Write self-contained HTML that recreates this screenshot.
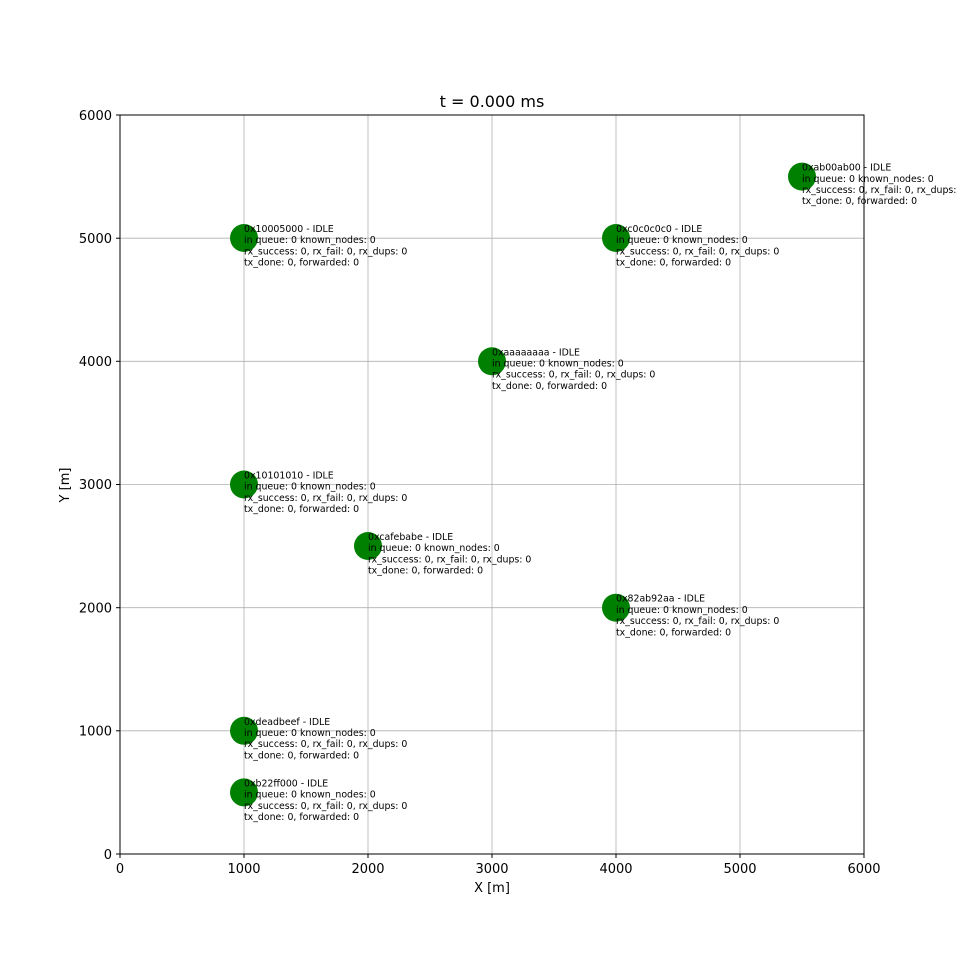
<!DOCTYPE html>
<html><head><meta charset="utf-8"><style>
html,body{margin:0;padding:0;background:#fff;}
svg{display:block;font-family:"DejaVu Sans","Liberation Sans",sans-serif;}
</style></head><body>
<svg width="960" height="960" viewBox="0 0 960 960" xmlns="http://www.w3.org/2000/svg">
<rect width="960" height="960" fill="#fff"/>
<g stroke="#b0b0b0" stroke-width="0.8">
<line x1="244" y1="115" x2="244" y2="854"/>
<line x1="368" y1="115" x2="368" y2="854"/>
<line x1="492" y1="115" x2="492" y2="854"/>
<line x1="616" y1="115" x2="616" y2="854"/>
<line x1="740" y1="115" x2="740" y2="854"/>
<line x1="120" y1="730.8" x2="864" y2="730.8"/>
<line x1="120" y1="607.7" x2="864" y2="607.7"/>
<line x1="120" y1="484.5" x2="864" y2="484.5"/>
<line x1="120" y1="361.3" x2="864" y2="361.3"/>
<line x1="120" y1="238.2" x2="864" y2="238.2"/>
</g>
<g fill="#008000">
<circle cx="244" cy="238" r="14"/>
<circle cx="616" cy="238" r="14"/>
<circle cx="802" cy="176.6" r="14"/>
<circle cx="492" cy="361.3" r="14"/>
<circle cx="244" cy="484.5" r="14"/>
<circle cx="368" cy="546" r="14"/>
<circle cx="616" cy="607.7" r="14"/>
<circle cx="244" cy="730.8" r="14"/>
<circle cx="244" cy="792.4" r="14"/>
</g>
<rect x="120" y="115" width="744" height="739" fill="none" stroke="#000" stroke-width="1"/>
<g stroke="#000" stroke-width="1">
<line x1="120" y1="854" x2="120" y2="858"/><line x1="244" y1="854" x2="244" y2="858"/><line x1="368" y1="854" x2="368" y2="858"/><line x1="492" y1="854" x2="492" y2="858"/><line x1="616" y1="854" x2="616" y2="858"/><line x1="740" y1="854" x2="740" y2="858"/><line x1="864" y1="854" x2="864" y2="858"/>
<line x1="116" y1="854" x2="120" y2="854"/><line x1="116" y1="730.8" x2="120" y2="730.8"/><line x1="116" y1="607.7" x2="120" y2="607.7"/><line x1="116" y1="484.5" x2="120" y2="484.5"/><line x1="116" y1="361.3" x2="120" y2="361.3"/><line x1="116" y1="238.2" x2="120" y2="238.2"/><line x1="116" y1="115" x2="120" y2="115"/>
</g>
<g font-size="13" fill="#000" text-anchor="middle">
<text x="120" y="873">0</text><text x="244" y="873">1000</text><text x="368" y="873">2000</text><text x="492" y="873">3000</text><text x="616" y="873">4000</text><text x="740" y="873">5000</text><text x="864" y="873">6000</text>
</g>
<g font-size="13" fill="#000" text-anchor="end">
<text x="112" y="859">0</text><text x="112" y="735.5">1000</text><text x="112" y="612.5">2000</text><text x="112" y="489">3000</text><text x="112" y="366">4000</text><text x="112" y="243">5000</text><text x="112" y="120">6000</text>
</g>
<text x="492" y="892" font-size="13" text-anchor="middle">X [m]</text>
<text transform="translate(69,485) rotate(-90)" font-size="13" text-anchor="middle">Y [m]</text>
<text x="492" y="107" font-size="16" text-anchor="middle">t = 0.000 ms</text>
<g font-size="9.4" fill="#000">
<text x="244" y="232"><tspan x="244">0x10005000 - IDLE</tspan><tspan x="244" dy="11.2">in queue: 0 known_nodes: 0</tspan><tspan x="244" dy="11.2">rx_success: 0, rx_fail: 0, rx_dups: 0</tspan><tspan x="244" dy="11.2">tx_done: 0, forwarded: 0</tspan></text>
<text x="616" y="232"><tspan x="616">0xc0c0c0c0 - IDLE</tspan><tspan x="616" dy="11.2">in queue: 0 known_nodes: 0</tspan><tspan x="616" dy="11.2">rx_success: 0, rx_fail: 0, rx_dups: 0</tspan><tspan x="616" dy="11.2">tx_done: 0, forwarded: 0</tspan></text>
<text x="802" y="170.6"><tspan x="802">0xab00ab00 - IDLE</tspan><tspan x="802" dy="11.2">in queue: 0 known_nodes: 0</tspan><tspan x="802" dy="11.2">rx_success: 0, rx_fail: 0, rx_dups: 0</tspan><tspan x="802" dy="11.2">tx_done: 0, forwarded: 0</tspan></text>
<text x="492" y="355.3"><tspan x="492">0xaaaaaaaa - IDLE</tspan><tspan x="492" dy="11.2">in queue: 0 known_nodes: 0</tspan><tspan x="492" dy="11.2">rx_success: 0, rx_fail: 0, rx_dups: 0</tspan><tspan x="492" dy="11.2">tx_done: 0, forwarded: 0</tspan></text>
<text x="244" y="478.5"><tspan x="244">0x10101010 - IDLE</tspan><tspan x="244" dy="11.2">in queue: 0 known_nodes: 0</tspan><tspan x="244" dy="11.2">rx_success: 0, rx_fail: 0, rx_dups: 0</tspan><tspan x="244" dy="11.2">tx_done: 0, forwarded: 0</tspan></text>
<text x="368" y="540"><tspan x="368">0xcafebabe - IDLE</tspan><tspan x="368" dy="11.2">in queue: 0 known_nodes: 0</tspan><tspan x="368" dy="11.2">rx_success: 0, rx_fail: 0, rx_dups: 0</tspan><tspan x="368" dy="11.2">tx_done: 0, forwarded: 0</tspan></text>
<text x="616" y="601.7"><tspan x="616">0x82ab92aa - IDLE</tspan><tspan x="616" dy="11.2">in queue: 0 known_nodes: 0</tspan><tspan x="616" dy="11.2">rx_success: 0, rx_fail: 0, rx_dups: 0</tspan><tspan x="616" dy="11.2">tx_done: 0, forwarded: 0</tspan></text>
<text x="244" y="724.8"><tspan x="244">0xdeadbeef - IDLE</tspan><tspan x="244" dy="11.2">in queue: 0 known_nodes: 0</tspan><tspan x="244" dy="11.2">rx_success: 0, rx_fail: 0, rx_dups: 0</tspan><tspan x="244" dy="11.2">tx_done: 0, forwarded: 0</tspan></text>
<text x="244" y="786.4"><tspan x="244">0xb22ff000 - IDLE</tspan><tspan x="244" dy="11.2">in queue: 0 known_nodes: 0</tspan><tspan x="244" dy="11.2">rx_success: 0, rx_fail: 0, rx_dups: 0</tspan><tspan x="244" dy="11.2">tx_done: 0, forwarded: 0</tspan></text>
</g>
</svg>
</body></html>
